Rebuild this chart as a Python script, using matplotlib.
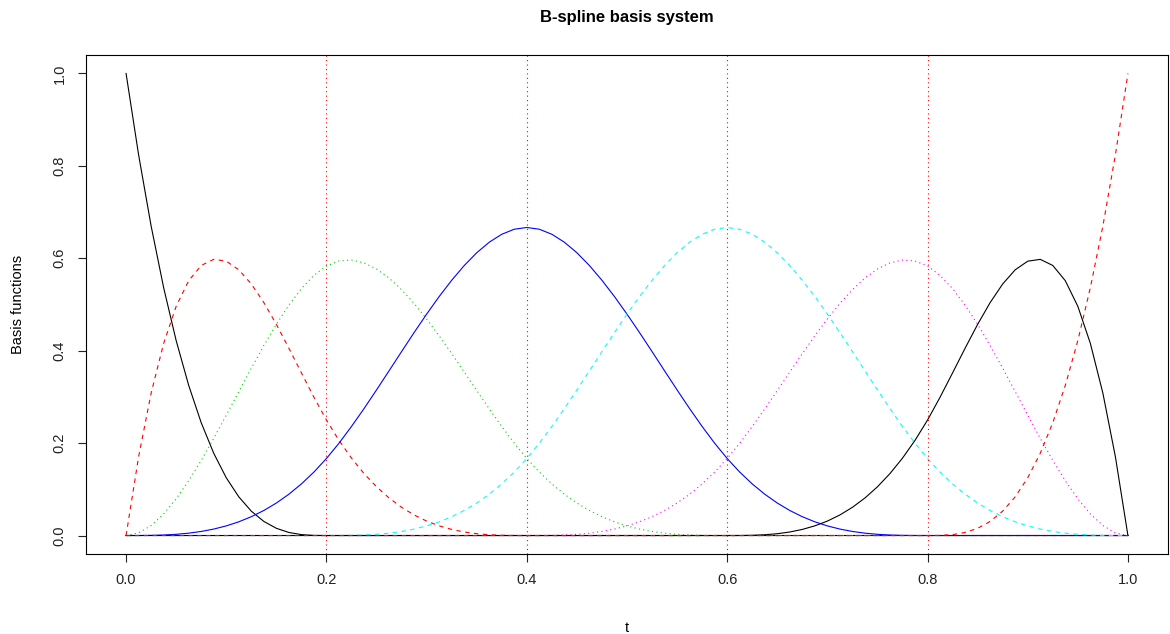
import numpy as np
import matplotlib.pyplot as plt

plt.rcParams['font.family'] = ['Liberation Sans', 'DejaVu Sans']

# evaluation grid, step 0.0125
t = np.linspace(0, 1, 81)
knots = [0.2, 0.4, 0.6, 0.8]

b1 = ([1, .82397, .66992, .53638, .42188, .32495, .24414, .17798, .125,
       .08374, .05273, .03052, .01563, .00659, .00195, .00024, 0]
      + [0] * 64)
b2 = ([0, .17035, .30811, .41583, .49609, .55145, .58447, .59772, .59375,
       .57513, .54443, .50421, .45703, .40546, .35205, .29938, .25]
      + [.20599, .16748, .13409, .10547, .08124, .06104, .04449, .03125,
         .02094, .01318, .00763, .00391, .00165, .00049, .00006, 0]
      + [0] * 48)
b3 = ([0, .00564, .02165, .04669, .07943, .11851, .16260, .21035, .26042,
       .31146, .36214, .41111, .45703, .49856, .53434, .56305, .58333]
      + [.59422, .59619, .59011, .57682, .55719, .53206, .50230, .46875,
         .43227, .39372, .35394, .31380, .27415, .23584, .19973, .16667]
      + [.13733, .11165, .08940, .07031, .05416, .04069, .02966, .02083,
         .01396, .00879, .00509, .00260, .00110, .00033, .00004, 0]
      + [0] * 32)
b4 = ([0, .00004, .00033, .00110, .00260, .00509, .00879, .01396, .02083,
       .02966, .04069, .05416, .07031, .08940, .11165, .13733, .16667]
      + [.19975, .23600, .27470, .31510, .35649, .39811, .43925, .47917,
         .51713, .55241, .58427, .61198, .63481, .65202, .66288, .66667]
      + [.66288, .65202, .63481, .61198, .58427, .55241, .51713, .47917,
         .43925, .39811, .35649, .31510, .27470, .23600, .19975, .16667]
      + [.13733, .11165, .08940, .07031, .05416, .04069, .02966, .02083,
         .01396, .00879, .00509, .00260, .00110, .00033, .00004, 0]
      + [0] * 16)
b5 = ([0] * 16
      + [0, .00004, .00033, .00110, .00260, .00509, .00879, .01396, .02083,
         .02966, .04069, .05416, .07031, .08940, .11165, .13733, .16667]
      + [.19975, .23600, .27470, .31510, .35649, .39811, .43925, .47917,
         .51713, .55241, .58427, .61198, .63481, .65202, .66288, .66667]
      + [.66288, .65202, .63481, .61198, .58427, .55241, .51713, .47917,
         .43925, .39811, .35649, .31510, .27470, .23600, .19975, .16667]
      + [.13733, .11165, .08940, .07031, .05416, .04069, .02966, .02083,
         .01396, .00879, .00509, .00260, .00110, .00033, .00004, 0])
b6 = ([0] * 32
      + [0, .00004, .00033, .00110, .00260, .00509, .00879, .01396, .02083,
         .02966, .04069, .05416, .07031, .08940, .11165, .13733, .16667]
      + [.19973, .23584, .27415, .31380, .35394, .39372, .43227, .46875,
         .50230, .53206, .55719, .57682, .59011, .59619, .59422, .58333]
      + [.56305, .53434, .49856, .45703, .41111, .36214, .31146, .26042,
         .21035, .16260, .11851, .07943, .04669, .02165, .00564, 0])
b7 = ([0] * 48
      + [0, .00006, .00049, .00165, .00391, .00763, .01318, .02094, .03125,
         .04449, .06104, .08124, .10547, .13409, .16748, .20599, .25]
      + [.29938, .35205, .40546, .45703, .50421, .54443, .57513, .59375,
         .59772, .58447, .55145, .49609, .41583, .30811, .17035, 0])
b8 = ([0] * 64
      + [0, .00024, .00195, .00659, .01563, .03052, .05273, .08374, .125,
         .17798, .24414, .32495, .42188, .53638, .66992, .82397, 1])

basis = [b1, b2, b3, b4, b5, b6, b7, b8]
colors = ['black', 'red', '#00CD00', 'blue', 'cyan', 'magenta', 'black', 'red']
styles = ['-', (0, (4, 4)), (0, (1, 3))]

fig = plt.figure(figsize=(11.7, 6.34), dpi=100)
ax = fig.add_axes([86 / 1170, 80 / 634, 1082 / 1170, 499 / 634])

for i, b in enumerate(basis):
    ax.plot(t, b, color=colors[i], linestyle=styles[i % 3], lw=0.8)

for k in knots:
    ax.axvline(k, color='red', linestyle=(0, (1, 3)), lw=0.8)

ax.set_xlim(-0.04, 1.04)
ax.set_ylim(-0.04, 1.04)
ax.set_xticks([0, 0.2, 0.4, 0.6, 0.8, 1.0])
ax.set_xticklabels(['0.0', '0.2', '0.4', '0.6', '0.8', '1.0'])
ax.set_yticks([0, 0.2, 0.4, 0.6, 0.8, 1.0])
ax.set_yticklabels(['0.0', '0.2', '0.4', '0.6', '0.8', '1.0'],
                   rotation=90, va='center')
ax.tick_params(direction='out', length=6, width=0.8, labelsize=10.5,
               pad=8, colors='#222222')
for s in ax.spines.values():
    s.set_linewidth(0.8)

ax.set_xlabel('t', fontsize=10.5, labelpad=24)
ax.set_ylabel('Basis functions', fontsize=10.5, labelpad=20)
ax.set_title('B-spline basis system', fontsize=12, fontweight='bold', pad=24)

fig.savefig('out.png', dpi=100)
